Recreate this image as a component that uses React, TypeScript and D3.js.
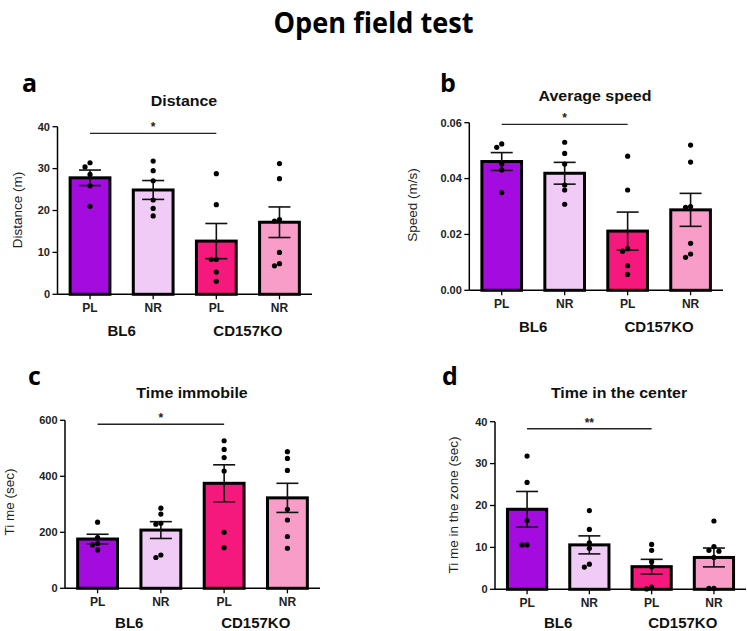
import React from 'react';
import * as d3 from 'd3';

// ---------- DATA ----------
const groups = ['PL', 'NR', 'PL', 'NR'];
const strains = ['BL6', 'CD157KO'];
const barColors = ['#A30BDF', '#F0CBF5', '#F5197D', '#F79DC8'];

const pageTitle = 'Open field test';
const panelLetters = ['a', 'b', 'c', 'd'];
const panelTitles = ['Distance', 'Average speed', 'Time immobile', 'Time in the center'];
const yTitles = ['Distance (m)', 'Speed (m/s)', 'Ti me (sec)', 'Ti me in the zone (sec)'];

const distanceMeans = [27.8, 24.9, 12.7, 17.2];
const distanceSem = [1.85, 2.25, 4.2, 3.65];
const distanceDots = [
  [31.4, 30.4, 28.6, 25.9, 21.0],
  [31.8, 29.5, 27.1, 22.5, 20.5, 18.7],
  [28.8, 21.4, 8.3, 8.3, 5.3, 3.1],
  [31.2, 27.6, 17.8, 17.5, 10.0, 7.3, 6.8],
];
const distanceTicks = [0, 10, 20, 30, 40];

const speedMeans = [0.0461, 0.0419, 0.0212, 0.0288];
const speedSem = [0.0032, 0.0039, 0.0068, 0.0059];
const speedDots = [
  [0.0524, 0.0512, 0.0452, 0.0431, 0.035],
  [0.053, 0.049, 0.0452, 0.0377, 0.0359, 0.0308],
  [0.048, 0.0359, 0.0149, 0.014, 0.0088, 0.0057],
  [0.052, 0.0459, 0.03, 0.0297, 0.0168, 0.013, 0.0118],
];
const speedTicks = [0, 0.02, 0.04, 0.06];

const immobileMeans = [176, 208, 375, 323];
const immobileSem = [17, 30, 66, 52];
const immobileDots = [
  [236, 181, 160, 155, 137],
  [286, 265, 232, 229, 119, 110],
  [527, 496, 467, 419, 200, 145],
  [488, 464, 421, 282, 244, 185, 143],
];
const immobileTicks = [0, 200, 400, 600];

const centerMeans = [19.1, 10.6, 5.4, 7.6];
const centerSem = [4.25, 2.15, 1.75, 2.25];
const centerDots = [
  [31.8, 25.5, 16.4, 10.6, 10.6],
  [18.8, 14.3, 11.1, 9.8, 6.0, 5.3],
  [10.7, 9.3, 6.6, 5.4, 0.5, 0.1],
  [16.3, 10.2, 9.3, 9.1, 7.6, 0.2, 0.2],
];
const centerTicks = [0, 10, 20, 30, 40];

const sigLevels = [38.4, 0.0594, 586, 38.3];
const sigLabels = ['*', '*', '*', '**'];

// ---------- LAYOUT ----------
const W = 747;
const H = 631;
const FONT = "'Liberation Sans', Arial, sans-serif";

const layouts = [
  { left: 57.5, right: 312, top: 126.7, bottom: 294.3, letter: [22, 92], title: [184, 106], yTitle: [17, 210], groupDy: 42 },
  { left: 469.3, right: 723, top: 122.7, bottom: 290.3, letter: [440, 92], title: [595, 101], yTitle: [412, 205], groupDy: 42 },
  { left: 65, right: 320, top: 420.3, bottom: 588.3, letter: [28, 385], title: [192, 398], yTitle: [9, 502], groupDy: 39.5 },
  { left: 495, right: 746, top: 421.7, bottom: 589.3, letter: [442, 385], title: [619, 398], yTitle: [453, 505], groupDy: 38.5 },
];

const panels = [
  { means: distanceMeans, sem: distanceSem, dots: distanceDots, ticks: distanceTicks, fmt: d3.format('d') },
  { means: speedMeans, sem: speedSem, dots: speedDots, ticks: speedTicks, fmt: d3.format('.2f') },
  { means: immobileMeans, sem: immobileSem, dots: immobileDots, ticks: immobileTicks, fmt: d3.format('d') },
  { means: centerMeans, sem: centerSem, dots: centerDots, ticks: centerTicks, fmt: d3.format('d') },
];

function swarm(vals: number[], y: (v: number) => number, r: number) {
  const placed: { x: number; y: number }[] = [];
  const offs = [0, -5, 5, -9, 9, -13, 13];
  vals.forEach((v) => {
    const py = y(v);
    let chosen = 0;
    for (const o of offs) {
      if (placed.every((p) => Math.hypot(p.x - o, p.y - py) >= 2 * r - 0.3)) {
        chosen = o;
        break;
      }
    }
    placed.push({ x: chosen, y: py });
  });
  return placed;
}

function Panel({ idx }: { idx: number }) {
  const L = layouts[idx];
  const P = panels[idx];
  const maxTick = P.ticks[P.ticks.length - 1];
  const y = d3.scaleLinear().domain([0, maxTick]).range([L.bottom, L.top]);
  const x = d3
    .scaleBand<number>()
    .domain(d3.range(groups.length))
    .range([L.left, L.right])
    .paddingInner(0.37)
    .paddingOuter(0.2);
  const bw = x.bandwidth();
  const cx = (i: number) => (x(i) as number) + bw / 2;
  const capW = 22;
  const r = 2.6;
  const sigY = y(sigLevels[idx]);

  return (
    <g>
      <text x={L.letter[0]} y={L.letter[1]} fontFamily="'Open Sans', sans-serif" fontWeight="bold" fontSize={25} fill="#000">
        {panelLetters[idx]}
      </text>
      <text
        transform={`translate(${L.title[0]},${L.title[1]}) scale(1.14,1)`}
        textAnchor="middle"
        fontFamily={FONT}
        fontWeight="bold"
        fontSize={14}
        fill="#111"
      >
        {panelTitles[idx]}
      </text>
      <text
        transform={`translate(${L.yTitle[0]},${L.yTitle[1]}) rotate(-90)`}
        textAnchor="middle"
        dominantBaseline="central"
        fontFamily={FONT}
        fontSize={13.5}
        fill="#222"
      >
        {yTitles[idx]}
      </text>

      {P.means.map((m, i) => (
        <rect
          key={'b' + i}
          x={x(i)}
          y={y(m)}
          width={bw}
          height={L.bottom - y(m)}
          fill={barColors[i]}
          stroke="#000"
          strokeWidth={3}
        />
      ))}

      {P.means.map((m, i) => {
        const hi = y(m + P.sem[i]);
        const lo = y(m - P.sem[i]);
        const c = cx(i);
        return (
          <g key={'e' + i} stroke="#111" strokeWidth={1.6}>
            <line x1={c} x2={c} y1={hi} y2={lo} />
            <line x1={c - capW / 2} x2={c + capW / 2} y1={hi} y2={hi} />
            <line x1={c - capW / 2} x2={c + capW / 2} y1={lo} y2={lo} />
          </g>
        );
      })}

      {P.dots.map((vals, i) =>
        swarm(vals, y, r).map((p, j) => <circle key={`d${i}-${j}`} cx={cx(i) + p.x} cy={p.y} r={r} fill="#000" />)
      )}

      <line x1={L.left} x2={L.left} y1={L.top} y2={L.bottom} stroke="#000" strokeWidth={1.5} />
      {P.ticks.map((t) => (
        <g key={'t' + t}>
          <line x1={L.left - 5} x2={L.left} y1={y(t)} y2={y(t)} stroke="#000" strokeWidth={1.3} />
          <text
            x={L.left - 7.5}
            y={y(t)}
            dy="0.35em"
            textAnchor="end"
            fontFamily={FONT}
            fontWeight="bold"
            fontSize={11}
            fill="#222"
          >
            {P.fmt(t)}
          </text>
        </g>
      ))}

      <line x1={L.left} x2={L.right} y1={L.bottom} y2={L.bottom} stroke="#000" strokeWidth={1.5} />
      {groups.map((g, i) => (
        <g key={'x' + i}>
          <line x1={cx(i)} x2={cx(i)} y1={L.bottom} y2={L.bottom + 5} stroke="#000" strokeWidth={1.3} />
          <text x={cx(i)} y={L.bottom + 17.5} textAnchor="middle" fontFamily={FONT} fontWeight="bold" fontSize={12} fill="#222">
            {g}
          </text>
        </g>
      ))}
      {strains.map((s, k) => (
        <text
          key={'s' + k}
          x={(cx(2 * k) + cx(2 * k + 1)) / 2}
          y={L.bottom + L.groupDy}
          textAnchor="middle"
          fontFamily={FONT}
          fontWeight="bold"
          fontSize={15}
          fill="#111"
        >
          {s}
        </text>
      ))}

      <line x1={cx(0)} x2={cx(2)} y1={sigY} y2={sigY} stroke="#222" strokeWidth={1.4} />
      <text x={(cx(0) + cx(2)) / 2} y={sigY - 2} textAnchor="middle" fontFamily={FONT} fontWeight="bold" fontSize={12} fill="#222">
        {sigLabels[idx]}
      </text>
    </g>
  );
}

export default function App() {
  return (
    <svg
      width={W}
      height={H}
      viewBox={`0 0 ${W} ${H}`}
      style={{ position: 'absolute', left: 0, top: 0, background: '#fff' }}
    >
      <rect x={0} y={0} width={W} height={H} fill="#fff" />
      <text
        x={373.5}
        y={33}
        textAnchor="middle"
        fontFamily="'Open Sans', sans-serif"
        fontWeight="bold"
        fontSize={29}
        textLength={200}
        lengthAdjust="spacingAndGlyphs"
        fill="#000"
      >
        {pageTitle}
      </text>
      {panelLetters.map((_, i) => (
        <Panel key={i} idx={i} />
      ))}
    </svg>
  );
}
